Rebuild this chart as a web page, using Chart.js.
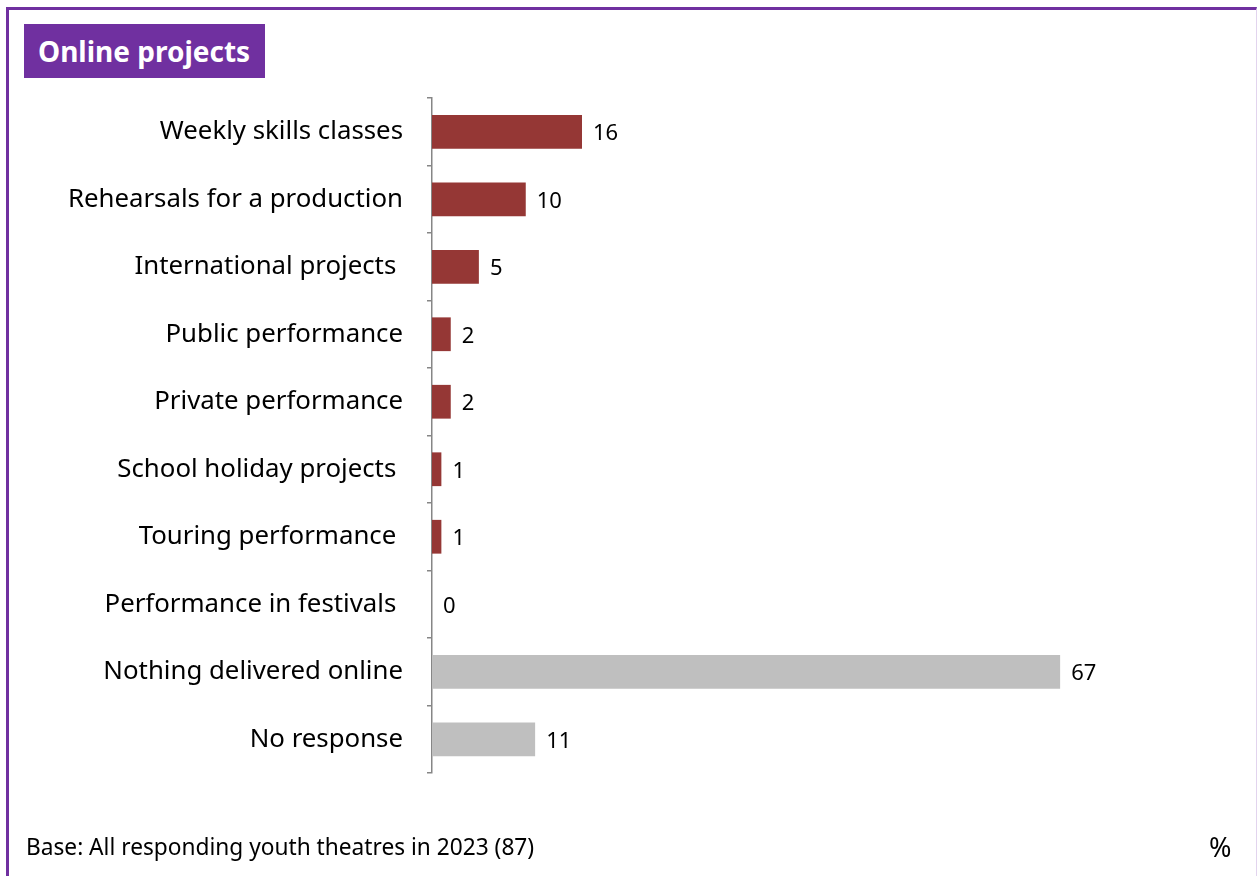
<!DOCTYPE html>
<html>
<head>
<meta charset="utf-8">
<script src="https://cdn.jsdelivr.net/npm/chart.js@4"></script>
<style>
  html, body { margin: 0; padding: 0; background: #fff; }
  #frame {
    position: relative; width: 1257px; height: 876px; overflow: hidden;
    font-family: "Noto Sans", sans-serif;
  }
  #frame .edge {
    position: absolute; left: 6px; top: 7px; right: 0; bottom: -10px;
    border-top: 3px solid #7030a0; border-left: 3px solid #7030a0;
    border-right: 1px solid #e2d4ee;
  }
  #title {
    position: absolute; left: 24px; top: 24px; width: 241px; height: 54px;
    background: #7030a0; color: #fff; font-weight: bold; font-size: 28px;
    line-height: 54px; box-sizing: border-box; padding-left: 14px; white-space: nowrap;
  }
  #base { position: absolute; left: 26px; top: 832px; font-size: 22.7px; line-height: 30px; color: #000; }
  #unit { position: absolute; left: 1209px; top: 830px; font-size: 27px; line-height: 34px; color: #000; }
  canvas { position: absolute; left: 0; top: 0; }
</style>
</head>
<body>
<div id="frame">
  <div class="edge"></div>
  <canvas id="onlineChart" width="1257" height="876"></canvas>
  <div id="title">Online projects</div>
  <div id="base">Base: All responding youth theatres in 2023 (87)</div>
  <div id="unit">%</div>
</div>
<script>
// ── DATA ──
const categories = [
  'Weekly skills classes',
  'Rehearsals for a production',
  'International projects ',
  'Public performance',
  'Private performance',
  'School holiday projects ',
  'Touring performance ',
  'Performance in festivals ',
  'Nothing delivered online',
  'No response'
];
const values = [16, 10, 5, 2, 2, 1, 1, 0, 67, 11];
const greyItems = ['Nothing delivered online', 'No response'];

const RED = '#953735';
const GREY = '#bfbfbf';
const barColors = categories.map(c => greyItems.includes(c) ? GREY : RED);

// ── VALUE LABELS AT BAR ENDS ──
const valueLabels = {
  id: 'valueLabels',
  afterDatasetsDraw(chart) {
    const { ctx } = chart;
    const meta = chart.getDatasetMeta(0);
    ctx.save();
    ctx.font = '22px "Noto Sans"';
    ctx.fillStyle = '#000';
    ctx.textAlign = 'left';
    ctx.textBaseline = 'middle';
    meta.data.forEach((bar, i) => {
      ctx.fillText(String(values[i]), bar.x + 11, bar.y + 2);
    });
    ctx.restore();
  }
};

new Chart(document.getElementById('onlineChart'), {
  type: 'bar',
  data: {
    labels: categories,
    datasets: [{
      data: values,
      backgroundColor: barColors,
      borderWidth: 0,
      categoryPercentage: 0.5,
      barPercentage: 1
    }]
  },
  options: {
    indexAxis: 'y',
    responsive: false,
    animation: false,
    layout: { padding: { top: 98, bottom: 103, right: 75, left: 0 } },
    plugins: { legend: { display: false }, tooltip: { enabled: false } },
    scales: {
      x: { display: false, min: 0, max: 80 },
      y: {
        afterFit: s => { s.width = 432; },
        grid: {
          offset: true,
          drawOnChartArea: false,
          drawTicks: true,
          tickLength: 5,
          color: '#868686',
          lineWidth: 1.5
        },
        border: { display: true, color: '#868686', width: 1.5 },
        ticks: {
          color: '#000',
          padding: 24,
          font: { family: 'Noto Sans', size: 25.8 }
        }
      }
    }
  },
  plugins: [valueLabels]
});
</script>
</body>
</html>
